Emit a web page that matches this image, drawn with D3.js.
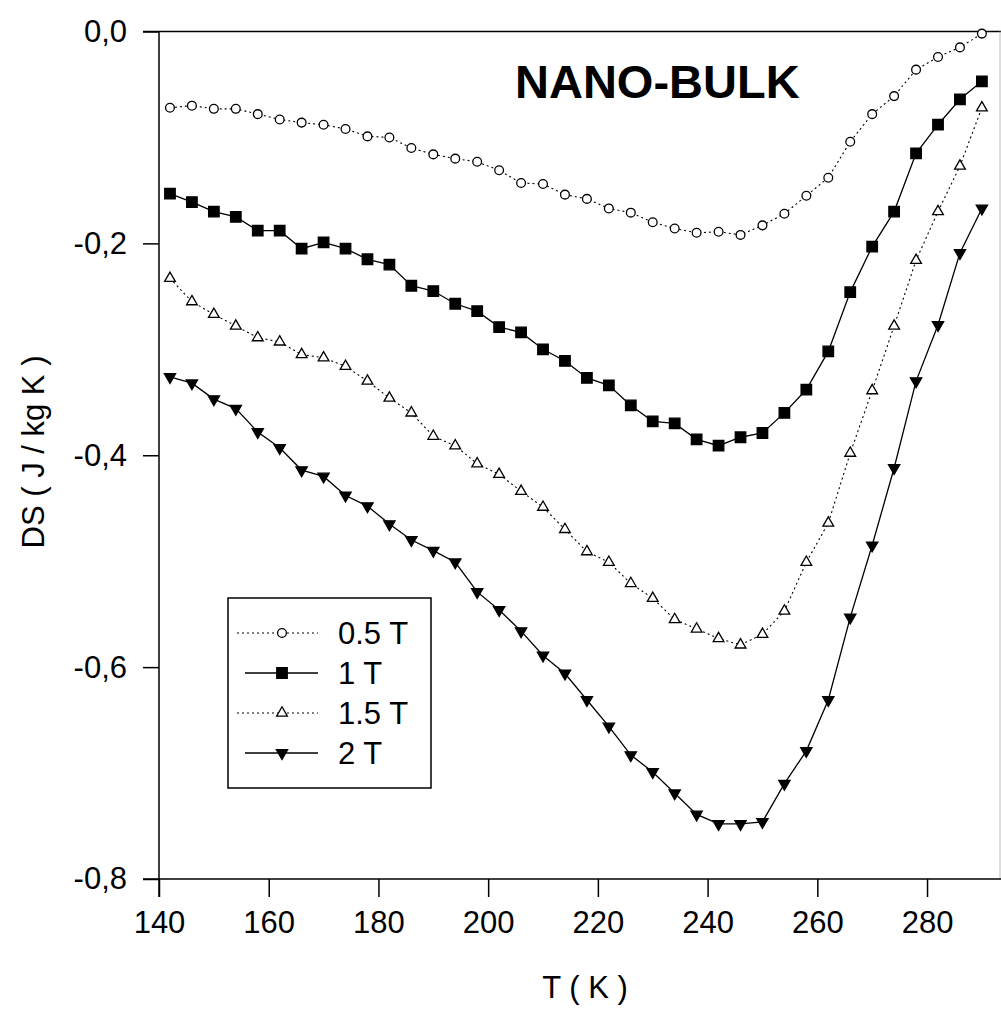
<!DOCTYPE html>
<html>
<head>
<meta charset="utf-8">
<script src="https://cdn.jsdelivr.net/npm/d3@7/dist/d3.min.js"></script>
<style>
  html, body { margin: 0; padding: 0; background: #fff; }
  svg { display: block; }
  text { font-family: "Liberation Sans", Arial, sans-serif; fill: #000; }
</style>
</head>
<body>
<svg id="chart" width="1001" height="1009"></svg>
<script>
// ---- data ----
const temperatures = [142,146,150,154,158,162,166,170,174,178,182,186,190,194,198,202,206,210,214,218,222,226,230,234,238,242,246,250,254,258,262,266,270,274,278,282,286,290];

const ds05T = [-0.072,-0.070,-0.073,-0.073,-0.078,-0.083,-0.086,-0.088,-0.092,-0.099,-0.100,-0.110,-0.116,-0.120,-0.123,-0.131,-0.143,-0.144,-0.154,-0.158,-0.167,-0.171,-0.180,-0.186,-0.190,-0.189,-0.192,-0.183,-0.172,-0.155,-0.138,-0.104,-0.078,-0.061,-0.036,-0.024,-0.015,-0.002];

const ds1T = [-0.153,-0.161,-0.170,-0.175,-0.188,-0.188,-0.205,-0.199,-0.205,-0.215,-0.220,-0.240,-0.245,-0.257,-0.264,-0.279,-0.284,-0.300,-0.311,-0.327,-0.334,-0.353,-0.368,-0.370,-0.385,-0.391,-0.383,-0.379,-0.360,-0.338,-0.302,-0.246,-0.203,-0.170,-0.115,-0.088,-0.064,-0.047];

const ds15T = [-0.233,-0.255,-0.267,-0.278,-0.289,-0.293,-0.305,-0.308,-0.316,-0.330,-0.346,-0.360,-0.382,-0.391,-0.408,-0.418,-0.434,-0.449,-0.470,-0.491,-0.501,-0.521,-0.535,-0.555,-0.564,-0.573,-0.579,-0.569,-0.547,-0.501,-0.464,-0.398,-0.339,-0.278,-0.216,-0.170,-0.127,-0.072];

const ds2T = [-0.326,-0.332,-0.347,-0.356,-0.378,-0.393,-0.414,-0.420,-0.438,-0.448,-0.465,-0.480,-0.490,-0.501,-0.529,-0.546,-0.566,-0.589,-0.606,-0.631,-0.656,-0.683,-0.699,-0.719,-0.739,-0.748,-0.748,-0.746,-0.710,-0.679,-0.631,-0.553,-0.485,-0.412,-0.330,-0.277,-0.209,-0.167];

const seriesNames = ["0.5 T", "1 T", "1.5 T", "2 T"];
const xTickValues = [140,160,180,200,220,240,260,280];
const yTickValues = [0, -0.2, -0.4, -0.6, -0.8];
const titleText = "NANO-BULK";
const xTitle = "T ( K )";
const yTitle = "DS ( J / kg K )";

// ---- styles ----
const styles = [
  {values: ds05T, dash: "2,3", width: 1.1, symbol: d3.symbolCircle, size: 60, fill: "#fff", rotate: 0},
  {values: ds1T,  dash: null,  width: 1.3, symbol: d3.symbolSquare, size: 110, fill: "#000", rotate: 0},
  {values: ds15T, dash: "2,3", width: 1.1, symbol: d3.symbolTriangle, size: 50, fill: "#fff", rotate: 0},
  {values: ds2T,  dash: null,  width: 1.3, symbol: d3.symbolTriangle, size: 55, fill: "#000", rotate: 180}
];

const svg = d3.select("#chart");
svg.append("rect").attr("width", 1001).attr("height", 1009).attr("fill", "#fff");

const x = d3.scaleLinear().domain([140, 293.3]).range([159, 1000]);
const y = d3.scaleLinear().domain([-0.8, 0]).range([879, 31.5]);

const fmt = v => d3.format(".1f")(v).replace(".", ",").replace("−", "-");

// frame top and right
svg.append("line").attr("x1", 143).attr("x2", 1001).attr("y1", y(0)).attr("y2", y(0))
  .attr("stroke", "#000").attr("stroke-width", 1.5);
svg.append("line").attr("x1", 1000).attr("x2", 1000).attr("y1", y(0)).attr("y2", y(-0.8))
  .attr("stroke", "#bbb").attr("stroke-width", 1);

// axes
const xAxis = d3.axisBottom(x).tickValues(xTickValues).tickSize(18).tickSizeOuter(0).tickPadding(14).tickFormat(d3.format("d"));
const gx = svg.append("g").attr("transform", `translate(0,${y(-0.8)})`).call(xAxis);
gx.select(".domain").attr("stroke-width", 1.5).attr("d", `M143,0H1001`);
gx.selectAll(".tick line").attr("stroke-width", 1.5);
gx.selectAll(".tick text").attr("font-size", 31).attr("font-family", "Liberation Sans, Arial, sans-serif");

const yAxis = d3.axisLeft(y).tickValues(yTickValues).tickSize(16).tickSizeOuter(0).tickPadding(16).tickFormat(fmt);
const gy = svg.append("g").attr("transform", `translate(${x(140)},0)`).call(yAxis);
gy.select(".domain").attr("stroke-width", 1.5).attr("d", `M0,${y(0)}V${y(-0.8) + 18}`);
gy.selectAll(".tick line").attr("stroke-width", 1.5);
gy.selectAll(".tick text").attr("font-size", 31).attr("font-family", "Liberation Sans, Arial, sans-serif");

// titles
svg.append("text").attr("x", 585).attr("y", 998).attr("text-anchor", "middle")
  .attr("font-size", 31).text(xTitle);
svg.append("text").attr("transform", `translate(44,452) rotate(-90)`).attr("text-anchor", "middle")
  .attr("font-size", 31).text(yTitle);
svg.append("text").attr("x", 515).attr("y", 98).attr("font-size", 47).attr("font-weight", "bold")
  .text(titleText);

// series
const line = d3.line().x((d, i) => x(temperatures[i])).y(d => y(d));
styles.forEach(s => {
  svg.append("path").datum(s.values).attr("d", line).attr("fill", "none")
    .attr("stroke", "#000").attr("stroke-width", s.width)
    .attr("stroke-dasharray", s.dash);
  svg.append("g").selectAll("path").data(s.values).join("path")
    .attr("d", d3.symbol().type(s.symbol).size(s.size))
    .attr("transform", (d, i) => `translate(${x(temperatures[i])},${y(d)}) rotate(${s.rotate})`)
    .attr("fill", s.fill).attr("stroke", "#000").attr("stroke-width", 1.3);
});

// legend
const leg = svg.append("g");
leg.append("rect").attr("x", 228).attr("y", 598).attr("width", 203).attr("height", 190)
  .attr("fill", "#fff").attr("stroke", "#000").attr("stroke-width", 1.5);
seriesNames.forEach((name, i) => {
  const s = styles[i];
  const ry = 633 + i * 40;
  leg.append("line").attr("x1", s.dash ? 237 : 245).attr("x2", 318).attr("y1", ry).attr("y2", ry)
    .attr("stroke", "#000").attr("stroke-width", s.width).attr("stroke-dasharray", s.dash);
  leg.append("path").attr("d", d3.symbol().type(s.symbol).size(s.size))
    .attr("transform", `translate(282,${ry}) rotate(${s.rotate})`)
    .attr("fill", s.fill).attr("stroke", "#000").attr("stroke-width", 1.3);
  leg.append("text").attr("x", 338).attr("y", ry).attr("dy", "0.36em")
    .attr("font-size", 31).text(name);
});
</script>
</body>
</html>
